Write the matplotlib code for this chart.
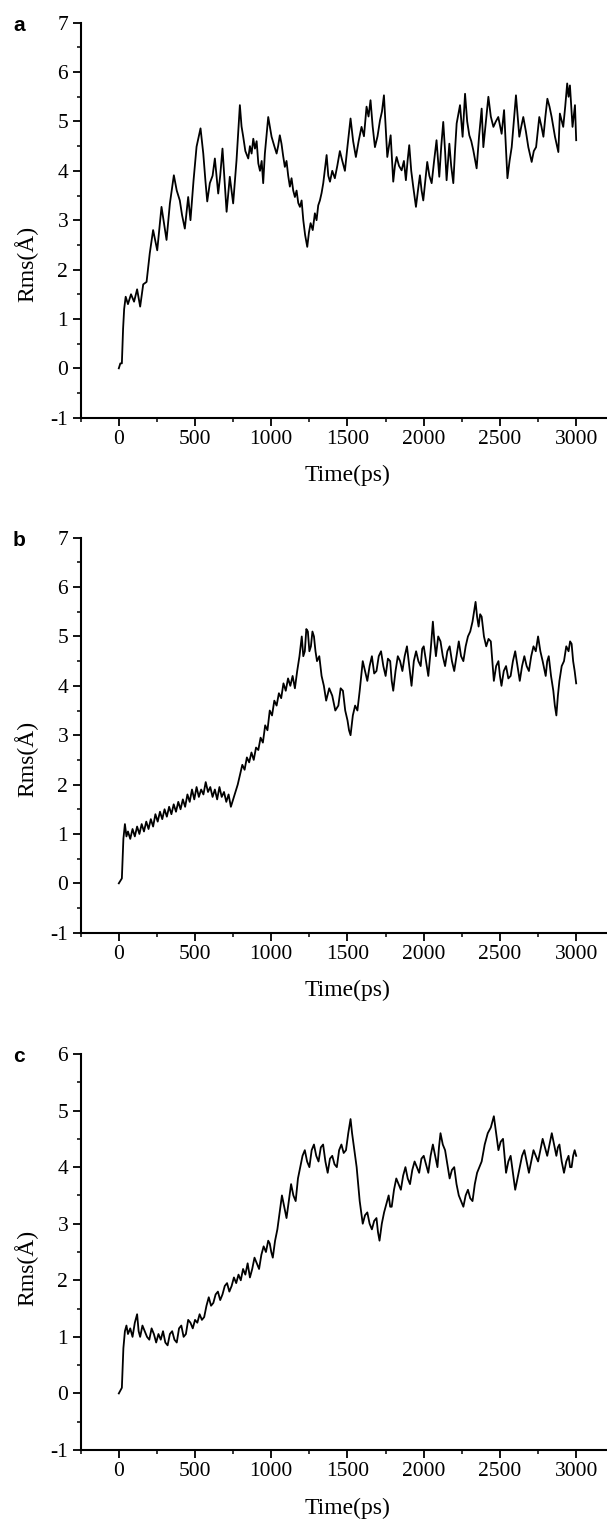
import matplotlib
matplotlib.use("Agg")
import matplotlib.pyplot as plt
from matplotlib.ticker import MultipleLocator

plt.rcParams["axes.unicode_minus"] = False

# ---------------- data ----------------
# (time ps, rms Å) readings
trace_a = [(0, 0.0), (10, 0.1), (20, 0.1), (28, 0.8), (35, 1.2), (45, 1.45), (60, 1.3),
           (80, 1.5), (100, 1.35), (120, 1.6), (140, 1.25), (160, 1.7), (182, 1.75),
           (203, 2.33), (225, 2.80), (252, 2.39), (280, 3.27), (313, 2.60), (335, 3.34),
           (361, 3.91), (380, 3.6), (400, 3.40), (415, 3.1), (433, 2.83), (455, 3.47),
           (470, 3.0), (490, 3.8), (510, 4.49), (536, 4.86), (554, 4.35), (568, 3.8),
           (580, 3.38), (597, 3.75), (615, 3.9), (630, 4.25), (652, 3.54), (665, 3.9),
           (680, 4.45), (707, 3.17), (728, 3.88), (750, 3.34), (772, 4.21), (794, 5.33),
           (805, 4.9), (816, 4.69), (830, 4.4), (849, 4.25), (860, 4.5), (871, 4.35),
           (882, 4.65), (893, 4.45), (904, 4.6), (915, 4.15), (926, 4.0), (937, 4.2),
           (947, 3.75), (958, 4.35), (980, 5.09), (1002, 4.69), (1020, 4.5), (1035, 4.35),
           (1045, 4.5), (1056, 4.72), (1067, 4.55), (1078, 4.3), (1089, 4.08), (1100, 4.2),
           (1111, 3.9), (1122, 3.68), (1133, 3.85), (1144, 3.6), (1155, 3.47), (1166, 3.6),
           (1177, 3.35), (1188, 3.27), (1199, 3.4), (1210, 3.0), (1222, 2.7), (1236, 2.46),
           (1247, 2.75), (1258, 2.94), (1272, 2.8), (1286, 3.14), (1297, 3.0), (1308, 3.3),
           (1319, 3.40), (1330, 3.55), (1341, 3.75), (1363, 4.32), (1374, 3.9), (1385, 3.78),
           (1400, 4.0), (1417, 3.85), (1433, 4.1), (1450, 4.40), (1466, 4.2), (1483, 4.0),
           (1500, 4.5), (1520, 5.06), (1537, 4.6), (1555, 4.28), (1573, 4.6), (1592, 4.89),
           (1608, 4.7), (1625, 5.30), (1638, 5.1), (1651, 5.43), (1665, 4.9), (1680, 4.48),
           (1697, 4.7), (1713, 5.02), (1726, 5.2), (1739, 5.53), (1750, 4.9), (1761, 4.28),
           (1772, 4.5), (1783, 4.72), (1800, 3.78), (1811, 4.1), (1822, 4.28), (1838, 4.1),
           (1855, 4.01), (1870, 4.2), (1883, 3.81), (1894, 4.2), (1905, 4.52), (1918, 4.0),
           (1931, 3.68), (1949, 3.27), (1962, 3.6), (1975, 3.91), (1986, 3.6), (1997, 3.40),
           (2010, 3.8), (2023, 4.18), (2037, 3.9), (2052, 3.75), (2068, 4.2), (2084, 4.62),
           (2102, 3.88), (2115, 4.5), (2128, 4.99), (2140, 4.4), (2150, 3.81), (2168, 4.55),
           (2180, 4.1), (2194, 3.75), (2205, 4.4), (2216, 4.96), (2238, 5.33), (2255, 4.69),
           (2271, 5.56), (2285, 5.0), (2299, 4.72), (2312, 4.6), (2325, 4.42), (2347, 4.05),
           (2363, 4.7), (2380, 5.26), (2391, 4.48), (2408, 5.0), (2424, 5.50), (2440, 5.1),
           (2457, 4.89), (2473, 5.0), (2489, 5.09), (2511, 4.75), (2527, 5.23), (2549, 3.85),
           (2563, 4.2), (2577, 4.48), (2591, 5.0), (2605, 5.53), (2627, 4.69), (2640, 4.9),
           (2653, 5.09), (2670, 4.8), (2686, 4.48), (2708, 4.18), (2722, 4.4), (2737, 4.48),
           (2758, 5.09), (2772, 4.9), (2785, 4.69), (2798, 5.1), (2811, 5.46), (2825, 5.3),
           (2839, 5.09), (2861, 4.69), (2883, 4.38), (2893, 5.16), (2915, 4.89), (2928, 5.3),
           (2941, 5.77), (2950, 5.5), (2959, 5.73), (2976, 4.89), (2992, 5.33), (3000, 4.62)]

trace_b = [(0, 0.0), (10, 0.05), (20, 0.1), (30, 0.9), (40, 1.2), (50, 0.95), (60, 1.05),
           (75, 0.9), (90, 1.1), (105, 0.95), (120, 1.15), (135, 1.0), (150, 1.2),
           (165, 1.05), (180, 1.25), (195, 1.1), (210, 1.3), (225, 1.15), (240, 1.4),
           (255, 1.25), (270, 1.45), (285, 1.3), (300, 1.5), (315, 1.35), (330, 1.55),
           (345, 1.4), (360, 1.6), (375, 1.45), (390, 1.65), (405, 1.5), (420, 1.7),
           (435, 1.55), (450, 1.8), (465, 1.65), (480, 1.9), (495, 1.7), (510, 1.95),
           (525, 1.75), (540, 1.9), (555, 1.8), (570, 2.05), (585, 1.85), (600, 1.95),
           (615, 1.75), (630, 1.9), (645, 1.7), (660, 1.95), (675, 1.75), (690, 1.85),
           (705, 1.65), (720, 1.8), (735, 1.55), (750, 1.7), (765, 1.85), (780, 2.0),
           (795, 2.2), (810, 2.4), (825, 2.3), (840, 2.55), (855, 2.45), (870, 2.65),
           (885, 2.5), (900, 2.75), (915, 2.7), (930, 2.95), (945, 2.85), (960, 3.2),
           (975, 3.1), (990, 3.5), (1005, 3.4), (1020, 3.7), (1035, 3.6), (1050, 3.85),
           (1065, 3.75), (1080, 4.05), (1095, 3.9), (1110, 4.15), (1125, 4.0), (1140, 4.2),
           (1155, 3.95), (1170, 4.3), (1185, 4.6), (1200, 5.0), (1210, 4.6), (1220, 4.7),
           (1230, 5.15), (1240, 5.1), (1250, 4.7), (1260, 4.8), (1270, 5.1), (1280, 5.0),
           (1290, 4.7), (1300, 4.5), (1315, 4.6), (1330, 4.2), (1345, 4.0), (1360, 3.7),
           (1380, 3.95), (1400, 3.8), (1420, 3.5), (1440, 3.6), (1455, 3.95), (1470, 3.9),
           (1485, 3.5), (1500, 3.3), (1510, 3.1), (1520, 3.0), (1535, 3.4), (1550, 3.6),
           (1565, 3.5), (1580, 3.9), (1590, 4.2), (1600, 4.5), (1615, 4.3), (1630, 4.1),
           (1645, 4.4), (1660, 4.6), (1675, 4.25), (1690, 4.3), (1705, 4.6), (1720, 4.7),
           (1735, 4.4), (1750, 4.2), (1765, 4.55), (1780, 4.5), (1790, 4.1), (1800, 3.9),
           (1815, 4.3), (1830, 4.6), (1845, 4.5), (1860, 4.3), (1875, 4.6), (1890, 4.8),
           (1905, 4.4), (1920, 4.0), (1935, 4.5), (1950, 4.7), (1965, 4.5), (1980, 4.4),
           (1990, 4.75), (2000, 4.8), (2015, 4.5), (2030, 4.2), (2045, 4.7), (2060, 5.3),
           (2070, 4.9), (2080, 4.6), (2095, 5.0), (2110, 4.9), (2125, 4.6), (2140, 4.4),
           (2155, 4.7), (2170, 4.8), (2185, 4.5), (2200, 4.3), (2215, 4.6), (2230, 4.9),
           (2245, 4.6), (2260, 4.5), (2275, 4.8), (2290, 5.0), (2305, 5.1), (2320, 5.3),
           (2330, 5.5), (2340, 5.7), (2350, 5.4), (2360, 5.2), (2370, 5.45), (2380, 5.4),
           (2395, 5.0), (2410, 4.8), (2425, 4.95), (2440, 4.9), (2450, 4.5), (2460, 4.1),
           (2475, 4.4), (2490, 4.5), (2500, 4.2), (2510, 4.0), (2525, 4.3), (2540, 4.4),
           (2555, 4.15), (2570, 4.2), (2585, 4.5), (2600, 4.7), (2615, 4.4), (2630, 4.1),
           (2645, 4.4), (2660, 4.6), (2675, 4.4), (2690, 4.3), (2705, 4.6), (2720, 4.8),
           (2735, 4.7), (2750, 5.0), (2765, 4.7), (2780, 4.5), (2790, 4.35), (2800, 4.2),
           (2810, 4.5), (2820, 4.6), (2835, 4.2), (2850, 3.9), (2860, 3.6), (2870, 3.4),
           (2880, 3.8), (2890, 4.1), (2905, 4.4), (2920, 4.5), (2935, 4.8), (2950, 4.7),
           (2960, 4.9), (2970, 4.85), (2980, 4.5), (2990, 4.3), (3000, 4.05)]

trace_c = [(0, 0.0), (10, 0.05), (20, 0.1), (30, 0.8), (40, 1.1), (50, 1.2), (60, 1.05),
           (75, 1.15), (90, 1.0), (105, 1.25), (120, 1.4), (130, 1.1), (140, 1.0),
           (155, 1.2), (170, 1.1), (185, 1.0), (200, 0.95), (215, 1.15), (230, 1.05),
           (245, 0.9), (260, 1.05), (275, 0.95), (290, 1.1), (305, 0.9), (320, 0.85),
           (335, 1.05), (350, 1.1), (365, 0.95), (380, 0.9), (395, 1.15), (410, 1.2),
           (425, 1.0), (440, 1.05), (455, 1.3), (470, 1.25), (485, 1.15), (500, 1.3),
           (515, 1.25), (530, 1.4), (545, 1.3), (560, 1.35), (575, 1.55), (590, 1.7),
           (605, 1.55), (620, 1.6), (635, 1.75), (650, 1.8), (665, 1.65), (680, 1.75),
           (695, 1.9), (710, 1.95), (725, 1.8), (740, 1.9), (755, 2.05), (770, 1.95),
           (785, 2.1), (800, 2.0), (815, 2.2), (830, 2.1), (845, 2.3), (860, 2.05),
           (875, 2.2), (890, 2.4), (905, 2.3), (920, 2.2), (935, 2.45), (950, 2.6),
           (965, 2.5), (980, 2.7), (990, 2.65), (1000, 2.5), (1010, 2.4), (1025, 2.7),
           (1040, 2.9), (1055, 3.2), (1070, 3.5), (1085, 3.3), (1100, 3.1), (1115, 3.4),
           (1130, 3.7), (1145, 3.5), (1160, 3.4), (1175, 3.8), (1190, 4.0), (1205, 4.2),
           (1220, 4.3), (1235, 4.1), (1250, 4.0), (1265, 4.3), (1280, 4.4), (1295, 4.2),
           (1310, 4.1), (1325, 4.35), (1340, 4.4), (1355, 4.1), (1370, 3.9), (1385, 4.15),
           (1400, 4.2), (1415, 4.05), (1430, 4.0), (1445, 4.3), (1460, 4.4), (1475, 4.25),
           (1490, 4.3), (1505, 4.6), (1520, 4.85), (1530, 4.6), (1540, 4.4), (1550, 4.2),
           (1560, 4.0), (1570, 3.7), (1580, 3.4), (1590, 3.2), (1600, 3.0), (1615, 3.15),
           (1630, 3.2), (1645, 3.0), (1660, 2.9), (1675, 3.05), (1690, 3.1), (1700, 2.85),
           (1710, 2.7), (1725, 3.0), (1740, 3.2), (1755, 3.35), (1770, 3.5), (1780, 3.3),
           (1790, 3.3), (1805, 3.6), (1820, 3.8), (1835, 3.7), (1850, 3.6), (1865, 3.85),
           (1880, 4.0), (1895, 3.8), (1910, 3.7), (1925, 3.95), (1940, 4.1), (1955, 4.0),
           (1970, 3.9), (1985, 4.15), (2000, 4.2), (2015, 4.05), (2030, 3.9), (2045, 4.2),
           (2060, 4.4), (2075, 4.2), (2090, 4.0), (2100, 4.35), (2110, 4.6), (2125, 4.4),
           (2140, 4.3), (2155, 4.05), (2170, 3.8), (2185, 3.95), (2200, 4.0), (2215, 3.7),
           (2230, 3.5), (2245, 3.4), (2260, 3.3), (2275, 3.5), (2290, 3.6), (2305, 3.45),
           (2320, 3.4), (2335, 3.7), (2350, 3.9), (2365, 4.0), (2380, 4.1), (2400, 4.4),
           (2420, 4.6), (2440, 4.7), (2460, 4.9), (2475, 4.6), (2490, 4.3), (2505, 4.45),
           (2520, 4.5), (2530, 4.2), (2540, 3.9), (2555, 4.1), (2570, 4.2), (2585, 3.9),
           (2600, 3.6), (2615, 3.8), (2630, 4.0), (2645, 4.2), (2660, 4.3), (2675, 4.1),
           (2690, 3.9), (2705, 4.1), (2720, 4.3), (2735, 4.2), (2750, 4.1), (2765, 4.3),
           (2780, 4.5), (2795, 4.35), (2810, 4.2), (2825, 4.4), (2840, 4.6), (2855, 4.4),
           (2870, 4.2), (2880, 4.35), (2890, 4.4), (2905, 4.1), (2920, 3.9), (2935, 4.1),
           (2950, 4.2), (2960, 4.0), (2970, 4.0), (2980, 4.2), (2990, 4.3), (3000, 4.2)]

time_a = [p[0] for p in trace_a]
rms_a = [p[1] for p in trace_a]
time_b = [p[0] for p in trace_b]
rms_b = [p[1] for p in trace_b]
time_c = [p[0] for p in trace_c]
rms_c = [p[1] for p in trace_c]

panel_letters = ["a", "b", "c"]
y_limits = [(-1, 7), (-1, 7), (-1, 6)]
x_label = "Time(ps)"
y_label = "Rms(Å)"

# ---------------- figure ----------------
W, H = 607, 1523
fig = plt.figure(figsize=(W / 100, H / 100), dpi=100)
serif = ["Liberation Serif", "DejaVu Serif"]

# axes rectangles in pixels: (left, top, right, bottom)
rects = [(80.7, 22.7, 614.3, 417.7),
         (80.7, 537.7, 614.3, 932.7),
         (80.7, 1054.0, 614.3, 1450.0)]
ylabel_pos = [0.39, 0.44, 0.46]

series = [(time_a, rms_a), (time_b, rms_b), (time_c, rms_c)]

for i, ((t, v), (l, tp, r, b)) in enumerate(zip(series, rects)):
    ax = fig.add_axes([l / W, 1 - b / H, (r - l) / W, (b - tp) / H])
    ax.plot(t, v, color="black", lw=1.3)
    ax.set_xlim(-250, 3250)
    ax.set_ylim(*y_limits[i])
    ax.spines["top"].set_visible(False)
    ax.spines["right"].set_visible(False)
    for s in ("left", "bottom"):
        ax.spines[s].set_linewidth(1.5)
    ax.xaxis.set_major_locator(MultipleLocator(500))
    ax.xaxis.set_minor_locator(MultipleLocator(250))
    ax.yaxis.set_major_locator(MultipleLocator(1))
    ax.yaxis.set_minor_locator(MultipleLocator(0.5))
    ax.tick_params(which="major", direction="out", length=5.5, width=1.3,
                   labelsize=15.5)
    ax.tick_params(axis="y", which="major", pad=3.5)
    ax.tick_params(axis="x", which="major", pad=3)
    ax.tick_params(which="minor", direction="out", length=3, width=1.1)
    for lab in ax.get_xticklabels() + ax.get_yticklabels():
        lab.set_family(serif)
    ax.set_xlabel(x_label, fontsize=17, family=serif, labelpad=12)
    ax.set_ylabel(y_label, fontsize=17, family=serif)
    ax.yaxis.set_label_coords(-0.080, ylabel_pos[i])
    fig.text(13 / W, 1 - (tp + 3) / H, panel_letters[i], fontsize=15, fontweight="bold",
             family=["Liberation Sans", "DejaVu Sans"], ha="left", va="center")

fig.savefig("out.png", dpi=100)
